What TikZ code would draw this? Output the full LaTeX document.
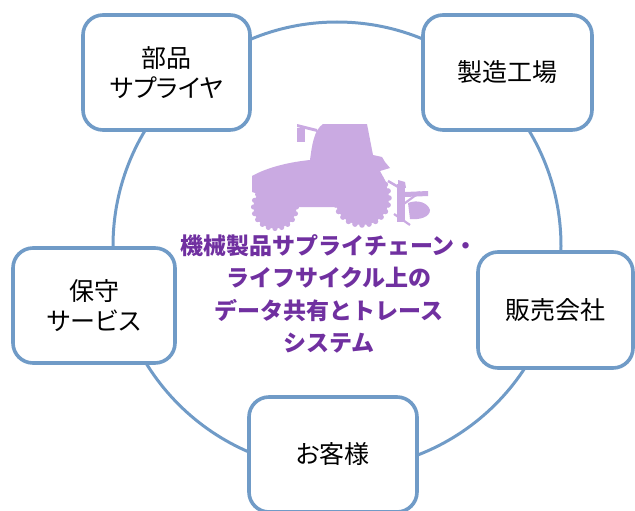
\documentclass[tikz,border=0pt]{standalone}
\usepackage{fontspec}
\setmainfont{Noto Sans CJK JP}
\usetikzlibrary{positioning}

\definecolor{ringblue}{RGB}{112,155,199}
\definecolor{titlepurple}{RGB}{112,48,160}
\definecolor{tractorlilac}{RGB}{202,170,226}

\tikzset{
  ring/.style={draw=ringblue, line width=3pt},
  station/.style={draw=ringblue, line width=3.6pt, rounded corners=20pt, fill=white,
    align=center, minimum height=115pt, inner sep=0pt,
    font=\fontsize{25}{30}\selectfont\addfontfeatures{RawFeature=+palt}},
  title/.style={align=center, text=titlepurple,
    font=\fontsize{23}{32.5}\selectfont\bfseries},
  tractor/.style={fill=tractorlilac}
}

\begin{document}
\begin{tikzpicture}[x=1pt, y=-1pt]
  \useasboundingbox (0,0) rectangle (635,511);

  % the cycle
  \draw[ring] (337,246) circle (224);

  % tractor silhouette
  \fill[tractor] (252,192) -- (252,176) .. controls (268,167) and (290,162) .. (310,160)
    .. controls (312,145) and (314,130) .. (323,124) -- (367,124)
    -- (373,155) -- (382,157) -- (385,162) -- (390,168) -- (380,171)
    -- (386,182) -- (386,204) -- (336,207) -- (298,207) -- cycle;
  \fill[tractor] (297,124) -- (317,129) -- (317,132) -- (297,127) -- cycle;
  \fill[tractor] (297,128) rectangle (305,142);
  \fill[tractor] (275,207) circle (21.5);
  \foreach \a in {0,18,...,342}
    \fill[tractor] (275,207) ++(\a:21.5) circle (2.6);
  \fill[tractor] (362,198) circle (27);
  \foreach \a in {0,15,...,345}
    \fill[tractor] (362,198) ++(\a:27) circle (2.8);
  % rear implement
  \fill[tractor] (397,184) rectangle (405,222);
  \fill[tractor] (398,180) -- (405,182) -- (406,188) -- (398,187) -- cycle;
  \fill[tractor] (405,192) -- (428,191) -- (428,196) -- (405,197) -- cycle;
  \fill[tractor] (408,203) .. controls (418,199) and (428,203) .. (430,210)
    .. controls (430,217) and (420,220) .. (410,219) -- cycle;
  \draw[tractorlilac, line width=2.5pt] (388,181) -- (400,188);
  \draw[tractorlilac, line width=2.2pt] (401,206) -- (420,192);
  \draw[tractorlilac, line width=2.2pt] (394,214) -- (410,225);

  % stations around the cycle
  \node[station, minimum width=167pt] (supplier) at (166.5,72.5) {部品\\サプライヤ};
  \node[station, minimum width=169pt] (factory) at (507.5,72.5) {製造工場};
  \node[station, minimum width=162pt] (service) at (94,305.5) {保守\\サービス};
  \node[station, minimum width=155pt, minimum height=116pt] (dealer) at (555.5,310) {販売会社};
  \node[station, minimum width=168pt] (customer) at (333,454.5) {お客様};

  \node[title] (system) at (329,294) {機械製品サプライチェーン・\\ライフサイクル上の\\データ共有とトレース\\システム};
\end{tikzpicture}
\end{document}
